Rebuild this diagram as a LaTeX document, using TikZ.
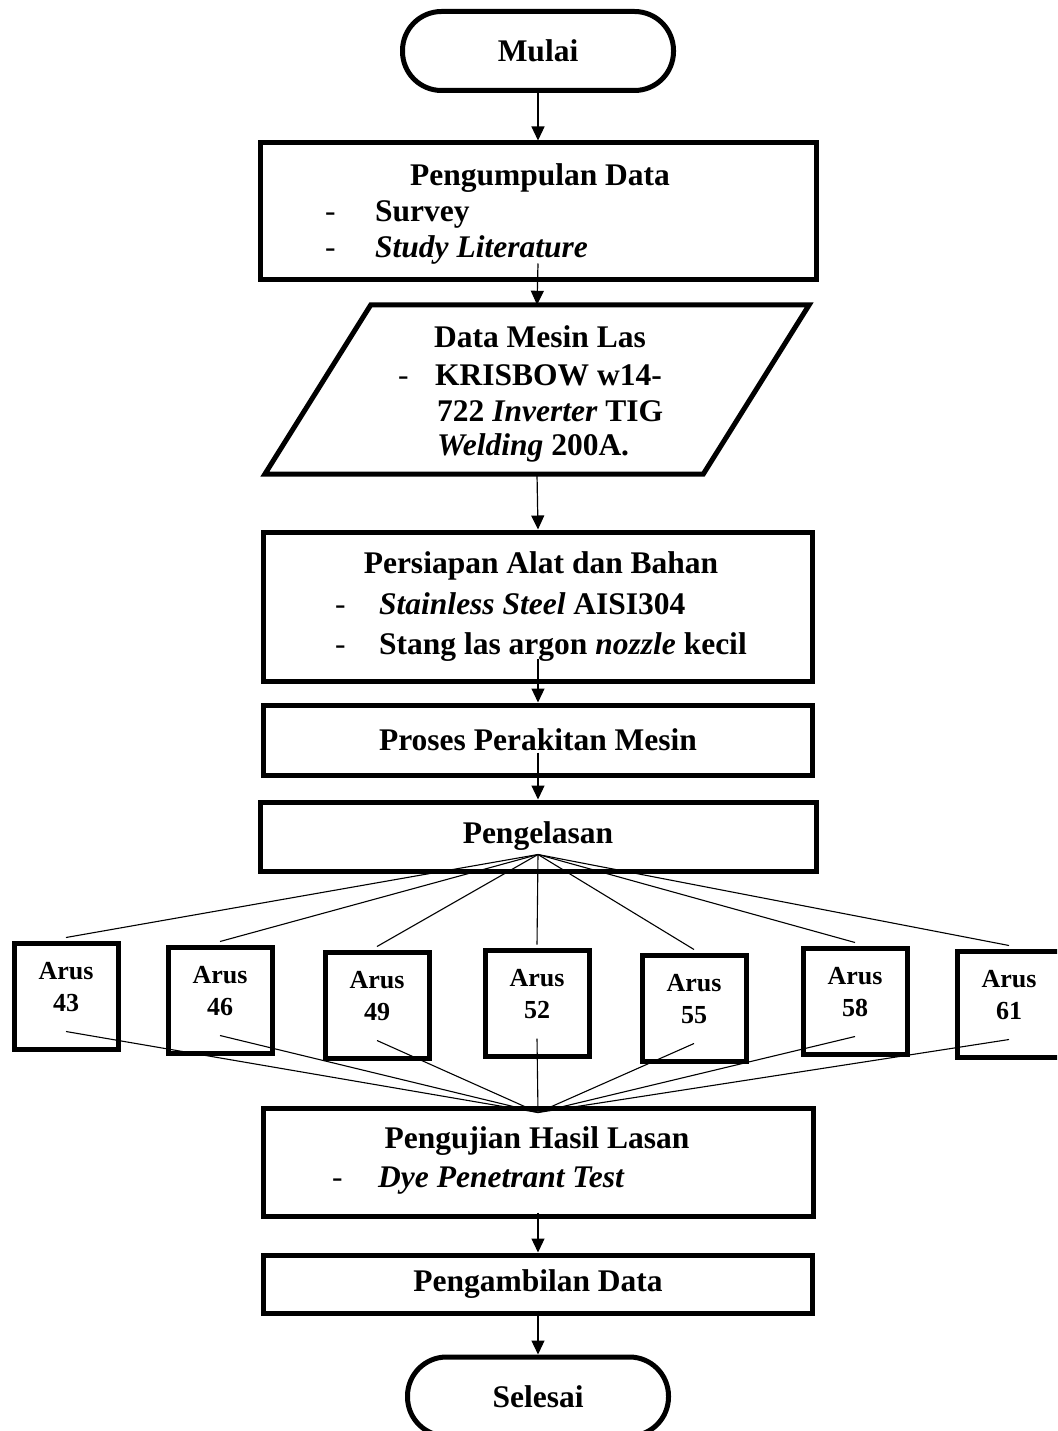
\documentclass[tikz,border=0pt]{standalone}
\usepackage{fontspec}
\setmainfont{Liberation Serif}
\usetikzlibrary{arrows.meta}

\begin{document}
\begin{tikzpicture}[x=1pt, y=-1pt,
    box/.style={draw, line width=5pt, rectangle, inner sep=0pt, font=\bfseries\fontsize{31.5}{37}\selectfont},
    term/.style={box, rounded corners=39pt, minimum width=271pt, minimum height=79pt},
    txt/.style={inner sep=0pt, anchor=base, font=\bfseries\fontsize{31.5}{37}\selectfont},
    item/.style={txt, anchor=base west},
    hyph/.style={inner sep=0pt, anchor=base west, font=\fontsize{31.5}{37}\selectfont},
    arus/.style={draw, line width=5pt, minimum width=104pt, minimum height=106pt},
    arustxt/.style={inner sep=0pt, align=center, font=\bfseries\fontsize{26}{32}\selectfont},
    flow/.style={-{Triangle[length=14pt, width=13pt]}, line width=1.2pt},
    fan/.style={line width=1.1pt}]

    \useasboundingbox (0,0) rectangle (1057,1431);
    \clip (0,0) rectangle (1057,1431);

    % Start
    \node[term] (mulai) at (538,51) {Mulai};

    % Pengumpulan data
    \node[box, minimum width=556pt, minimum height=136pt] (kumpul) at (538,211) {};
    \node[txt] (kumpul-t) at (540,186) {Pengumpulan Data};
    \node[hyph] (kumpul-d1) at (325,222) {-};
    \node[item] (kumpul-1) at (375,222) {Survey};
    \node[hyph] (kumpul-d2) at (325,258) {-};
    \node[item] (kumpul-2) at (375,258) {\textit{Study Literature}};

    % Data mesin las (parallelogram)
    \node[minimum width=544pt, minimum height=169pt, inner sep=0pt] (mesin) at (537,389.5) {};
    \draw[line width=5pt] (mesin.south west) -- ([xshift=-106pt]mesin.south east)
        -- (mesin.north east) -- ([xshift=106pt]mesin.north west) -- cycle;
    \node[txt] (mesin-t) at (540,347) {Data Mesin Las};
    \node[hyph] (mesin-d) at (398,385) {-};
    \node[item] (mesin-1) at (435,385) {KRISBOW w14-};
    \node[item] (mesin-2) at (437,421) {722 \textit{Inverter} TIG};
    \node[item] (mesin-3) at (437,455) {\textit{Welding} 200A.};

    % Persiapan alat dan bahan
    \node[box, minimum width=549pt, minimum height=149pt] (siap) at (538,606.5) {};
    \node[txt] (siap-t) at (541,573) {Persiapan Alat dan Bahan};
    \node[hyph] (siap-d1) at (335,614) {-};
    \node[item] (siap-1) at (379,614) {\textit{Stainless Steel} AISI304};
    \node[hyph] (siap-d2) at (335,654) {-};
    \node[item] (siap-2) at (379,654) {Stang las argon \textit{nozzle} kecil};

    % Proses and pengelasan
    \node[box, minimum width=549pt, minimum height=70pt] (rakit) at (538,740) {Proses Perakitan Mesin};
    \node[box, minimum width=556pt, minimum height=69pt] (las) at (538,836.5) {Pengelasan};

    % Pengujian
    \node[box, minimum width=550pt, minimum height=108pt] (uji) at (538,1162) {};
    \node[txt] (uji-t) at (537,1148) {Pengujian Hasil Lasan};
    \node[hyph] (uji-d) at (332,1187) {-};
    \node[item] (uji-1) at (378,1187) {\textit{Dye Penetrant Test}};

    % Pengambilan data and end
    \node[box, minimum width=549pt, minimum height=58pt] (ambil) at (538,1284) {Pengambilan Data};
    \node[term, minimum width=261pt] (selesai) at (538,1396.5) {Selesai};

    % Arrows
    \draw[flow] (mulai.south) -- (kumpul.north);
    \draw[flow] ([yshift=18pt]kumpul.south) -- (mesin.north);
    \draw[flow] (mesin.south) -- (siap.north);
    \draw[flow] ([yshift=25pt]siap.south) -- (rakit.north);
    \draw[flow] ([yshift=25pt]rakit.south) -- (las.north);
    \draw[flow] ([yshift=6pt]uji.south) -- (ambil.north);
    \draw[flow] ([yshift=5pt]ambil.south) -- (selesai.north);

    % Arus boxes fanned out
    \coordinate (las-fan) at ([yshift=19pt]las.south);
    \coordinate (uji-fan) at ([yshift=-7pt]uji.north);
    \foreach \v/\x/\y in {43/66/996, 46/220/1000, 49/377/1005, 52/537/1003, 55/694/1008, 58/855/1001, 61/1009/1004} {
        \node[arus] (a\v) at (\x,\y) {};
        \node[arustxt] (a\v-t) at ([yshift=9pt]a\v.center) {Arus\\\v};
        \draw[fan] (las-fan) -- ([yshift=3pt]a\v.north);
        \draw[fan] ([yshift=20pt]a\v.south) -- (uji-fan);
    }

\end{tikzpicture}
\end{document}
